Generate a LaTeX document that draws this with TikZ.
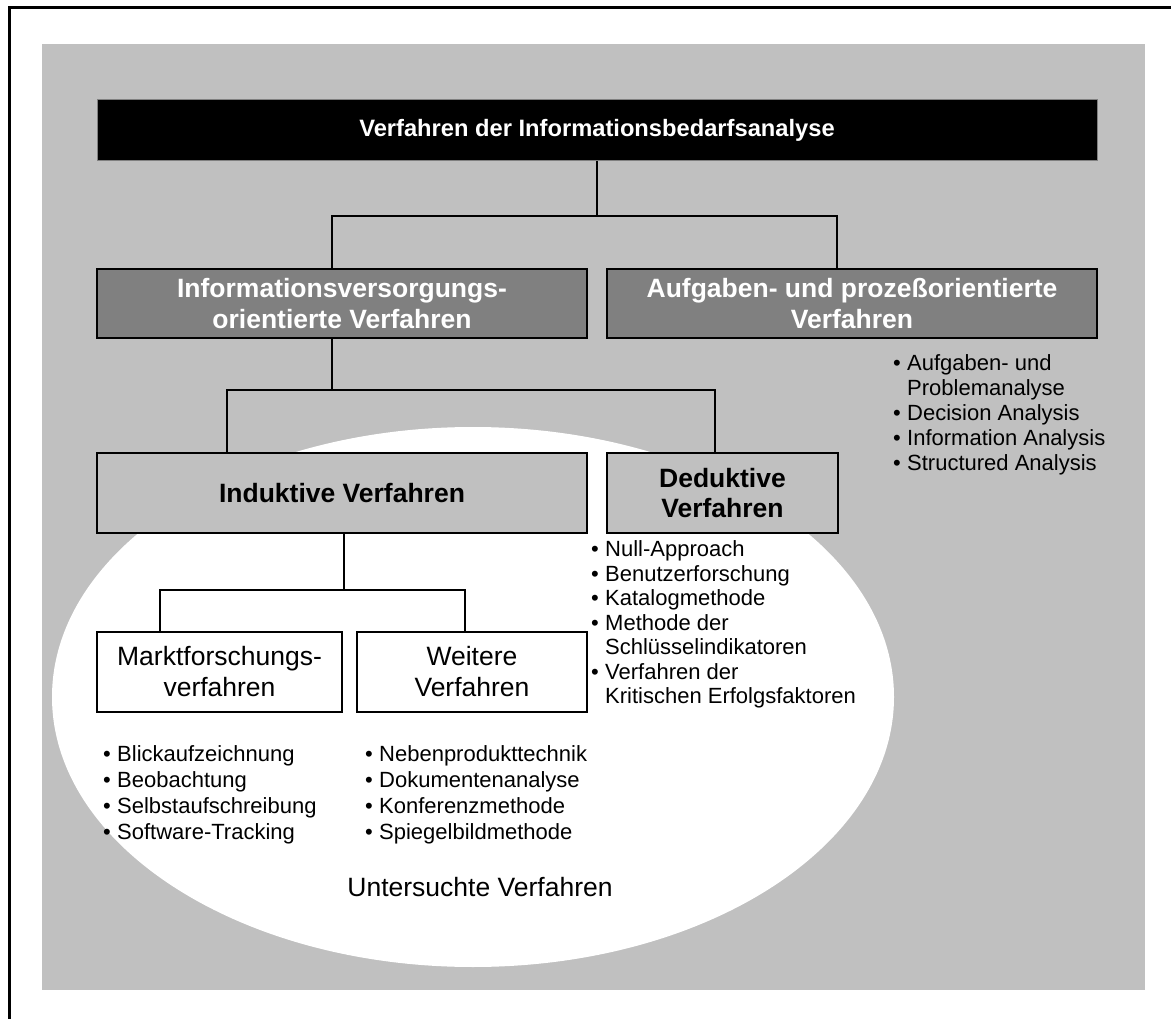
\documentclass[tikz,border=0pt]{standalone}
\usepackage{fontspec}
\setmainfont{Liberation Sans}
\definecolor{bg}{HTML}{C0C0C0}
\definecolor{dark}{HTML}{808080}
% bullet item and continuation indent for the method lists
\newcommand{\itm}{\makebox[14pt][l]{\textbullet}}
\newcommand{\cont}{\hspace*{14pt}}
\begin{document}
\begin{tikzpicture}[x=1pt,y=-1pt,
  box/.style={draw=black,line width=1.5pt,inner sep=0pt,align=center},
  head/.style={box,font=\bfseries\fontsize{26.5}{30.5}\selectfont},
  plainbox/.style={box,fill=white,font=\fontsize{26.5}{31}\selectfont},
  conn/.style={line width=1.5pt},
  blist/.style={anchor=north west,align=left,inner sep=0pt,font=\fontsize{22}{25}\selectfont}]
\useasboundingbox (0,0) rectangle (1171,1019);
% frame lines and grey panel
\draw[line width=3pt] (9,1019) -- (9,8) -- (1171,8);
\fill[bg] (42,44) rectangle (1145,990);
% region of the examined methods
\fill[white] (473,697) ellipse [x radius=421, y radius=270];

% boxes
\node[head,fill=black,draw=dark,line width=1pt,text=white,minimum width=1000pt,minimum height=61pt,
  font=\bfseries\fontsize{23.7}{28}\selectfont] (title) at (597,130.5) {Verfahren der Informationsbedarfsanalyse};
\node[head,fill=dark,text=white,minimum width=490pt,minimum height=69pt] (info) at (342,303.5)
  {Informationsversorgungs-\\orientierte Verfahren};
\node[head,fill=dark,text=white,minimum width=490pt,minimum height=69pt] (aufg) at (852,303.5)
  {Aufgaben- und prozeßorientierte\\Verfahren};
\node[head,fill=bg,minimum width=490pt,minimum height=80pt] (ind) at (342,493) {Induktive Verfahren};
\node[head,fill=bg,minimum width=231pt,minimum height=80pt] (ded) at (722.5,493) {Deduktive\\Verfahren};
\node[plainbox,minimum width=245pt,minimum height=80pt] (markt) at (219.5,672) {Marktforschungs-\\verfahren};
\node[plainbox,minimum width=230pt,minimum height=80pt] (weit) at (472,672) {Weitere\\Verfahren};

% connectors
\coordinate (b1) at (597,216);
\draw[conn] (title.south) -- (b1);
\draw[conn] ([xshift=-10pt]info.north) |- (b1);
\draw[conn] ([xshift=-15pt]aufg.north) |- (b1);
\coordinate (b2) at (332,390);
\draw[conn] ([xshift=-10pt]info.south) -- (b2);
\draw[conn] ([xshift=-115pt]ind.north) |- (b2);
\draw[conn] ([xshift=-7.5pt]ded.north) |- (b2);
\coordinate (b3) at (344,590);
\draw[conn] ([xshift=2pt]ind.south) -- (b3);
\draw[conn] ([xshift=-59.5pt]markt.north) |- (b3);
\draw[conn] ([xshift=-7pt]weit.north) |- (b3);

% method lists
\node[blist] (la) at (893,352.5) {\strut\itm Aufgaben- und\\\cont Problemanalyse\\\itm Decision Analysis\\\itm Information Analysis\\\itm Structured Analysis};
\node[blist,font=\fontsize{22}{24.5}\selectfont] (ld) at (591,539.5) {\strut\itm Null-Approach\\\itm Benutzerforschung\\\itm Katalogmethode\\\itm Methode der\\\cont Schlüsselindikatoren\\\itm Verfahren der\\\cont Kritischen Erfolgsfaktoren};
\node[blist,font=\fontsize{22}{26}\selectfont] (lm) at (103,743.5) {\strut\itm Blickaufzeichnung\\\itm Beobachtung\\\itm Selbstaufschreibung\\\itm Software-Tracking};
\node[blist,font=\fontsize{22}{26}\selectfont] (lw) at (365,743.5) {\strut\itm Nebenprodukttechnik\\\itm Dokumentenanalyse\\\itm Konferenzmethode\\\itm Spiegelbildmethode};
\node[font=\fontsize{26.5}{30}\selectfont,inner sep=0pt] (unt) at (480,887) {Untersuchte Verfahren};
\end{tikzpicture}
\end{document}
